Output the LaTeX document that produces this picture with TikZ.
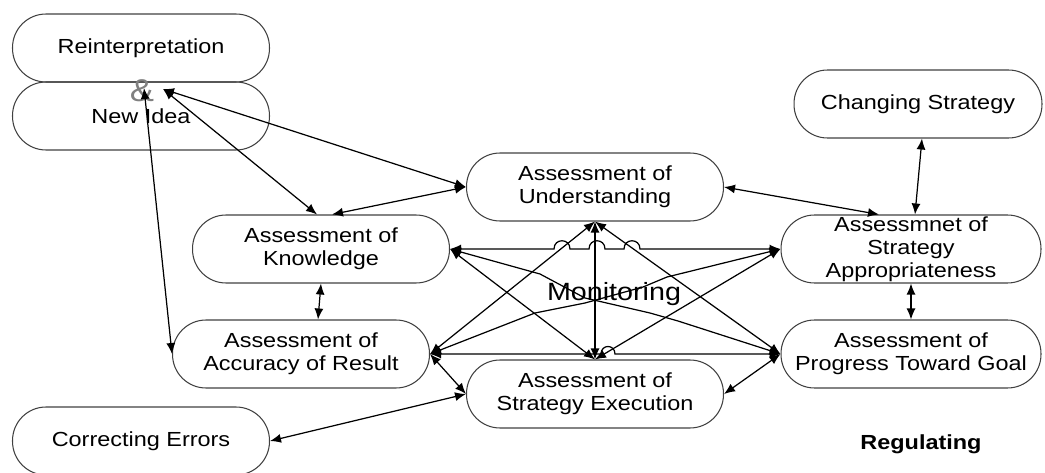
\documentclass[tikz,border=0pt]{standalone}
\usepackage{fontspec}
\setmainfont{Liberation Sans}[FakeStretch=1.15]
\usetikzlibrary{arrows.meta,calc}

\begin{document}
\begin{tikzpicture}
	[x=0.02cm, y=-0.02cm, inner sep=0pt,
	font=\fontsize{11.6}{13.1}\selectfont,
	process/.style	= {rectangle, rounded corners=0.67cm, draw=black!75, line width=0.6pt, minimum width=5.14cm, minimum height=1.36cm, align=center},
	link/.style	= {<->, >={Latex[length=2.2mm,width=1.8mm]}, line width=0.7pt},
	heading/.style	= {font=\fontsize{14.2}{16}\selectfont}]
	
	\useasboundingbox (0, 0) rectangle (1045, 473);
	
	\node at (141, 48)	[process]	(rein)	{Reinterpretation};
	\node at (141, 116)	[process]	(idea)	{New Idea};
	\node at (142, 91)	[font=\fontsize{18}{18}\selectfont, text=black!50]	(amp)	{\&};
	
	\node at (918, 104)	[process, minimum width=4.96cm]	(chg)	{Changing Strategy};
	\node at (595, 187)	[process]	(und)	{Assessment of\\Understanding};
	\node at (321, 249)	[process]	(knw)	{Assessment of\\Knowledge};
	\node at (911, 249)	[process, minimum width=5.2cm]	(app)	{Assessmnet of\\Strategy\\Appropriateness};
	\node at (301, 354)	[process]	(acc)	{Assessment of\\Accuracy of Result};
	\node at (911, 354)	[process, minimum width=5.2cm]	(prg)	{Assessment of\\Progress Toward Goal};
	\node at (595, 394)	[process]	(exe)	{Assessment of\\Strategy Execution};
	\node at (141, 441)	[process]	(cor)	{Correcting Errors};
	
	\node at (614, 294)	[heading]	(mon)	{Monitoring};
	\node at (921, 444)	[font=\fontsize{11.6}{13.1}\selectfont\bfseries]	(reg)	{Regulating};
	
	\coordinate (ja) at (163, 89);
	\coordinate (jb) at (144, 88);
	
	\draw [link] (ja) -- (und.west);
	\draw [link] (ja) -- ([xshift=-0.08cm]knw.north);
	\draw [link] (und.west) -- ([xshift=0.22cm]knw.north);
	\draw [link] (jb) -- (acc.west);
	\draw [link] (knw.south) -- ([xshift=0.34cm]acc.north);
	\draw [link] (acc.east) -- (exe.west);
	\draw [link] (cor.east) -- (exe.west);
	\draw [link] ([xshift=0.08cm]chg.south) -- ([xshift=0.08cm]app.north);
	\draw [link] (app.south) -- (prg.north);
	\draw [link] (und.east) -- ([xshift=-0.64cm]app.north);
	\draw [link] (prg.west) -- (exe.east);
	
	\draw [link] (und.south) -- (exe.north);
	\draw [link] (knw.east) -- (554, 249) .. controls (554, 238) and (570, 238) .. (570, 249)
		-- (589, 249) .. controls (589, 238) and (605, 238) .. (605, 249)
		-- (624, 249) .. controls (624, 238) and (640, 238) .. (640, 249) -- (app.west);
	\draw [link] (acc.east) -- (601, 354) .. controls (601, 344) and (615, 344) .. (615, 354) -- (prg.west);
	\draw [link] (und.south) -- (acc.east);
	\draw [link] (und.south) -- (prg.west);
	\draw [link] (exe.north) -- (knw.east);
	\draw [link] (exe.north) -- (app.west);
	\draw [link] (knw.east) -- (540, 274) -- (585, 298) -- (650, 313) -- (678, 321) -- (prg.west);
	\draw [link] (acc.east) -- (535, 313) -- (585, 303) -- (643, 287) -- (667, 277) -- (app.west);
\end{tikzpicture}
\end{document}
